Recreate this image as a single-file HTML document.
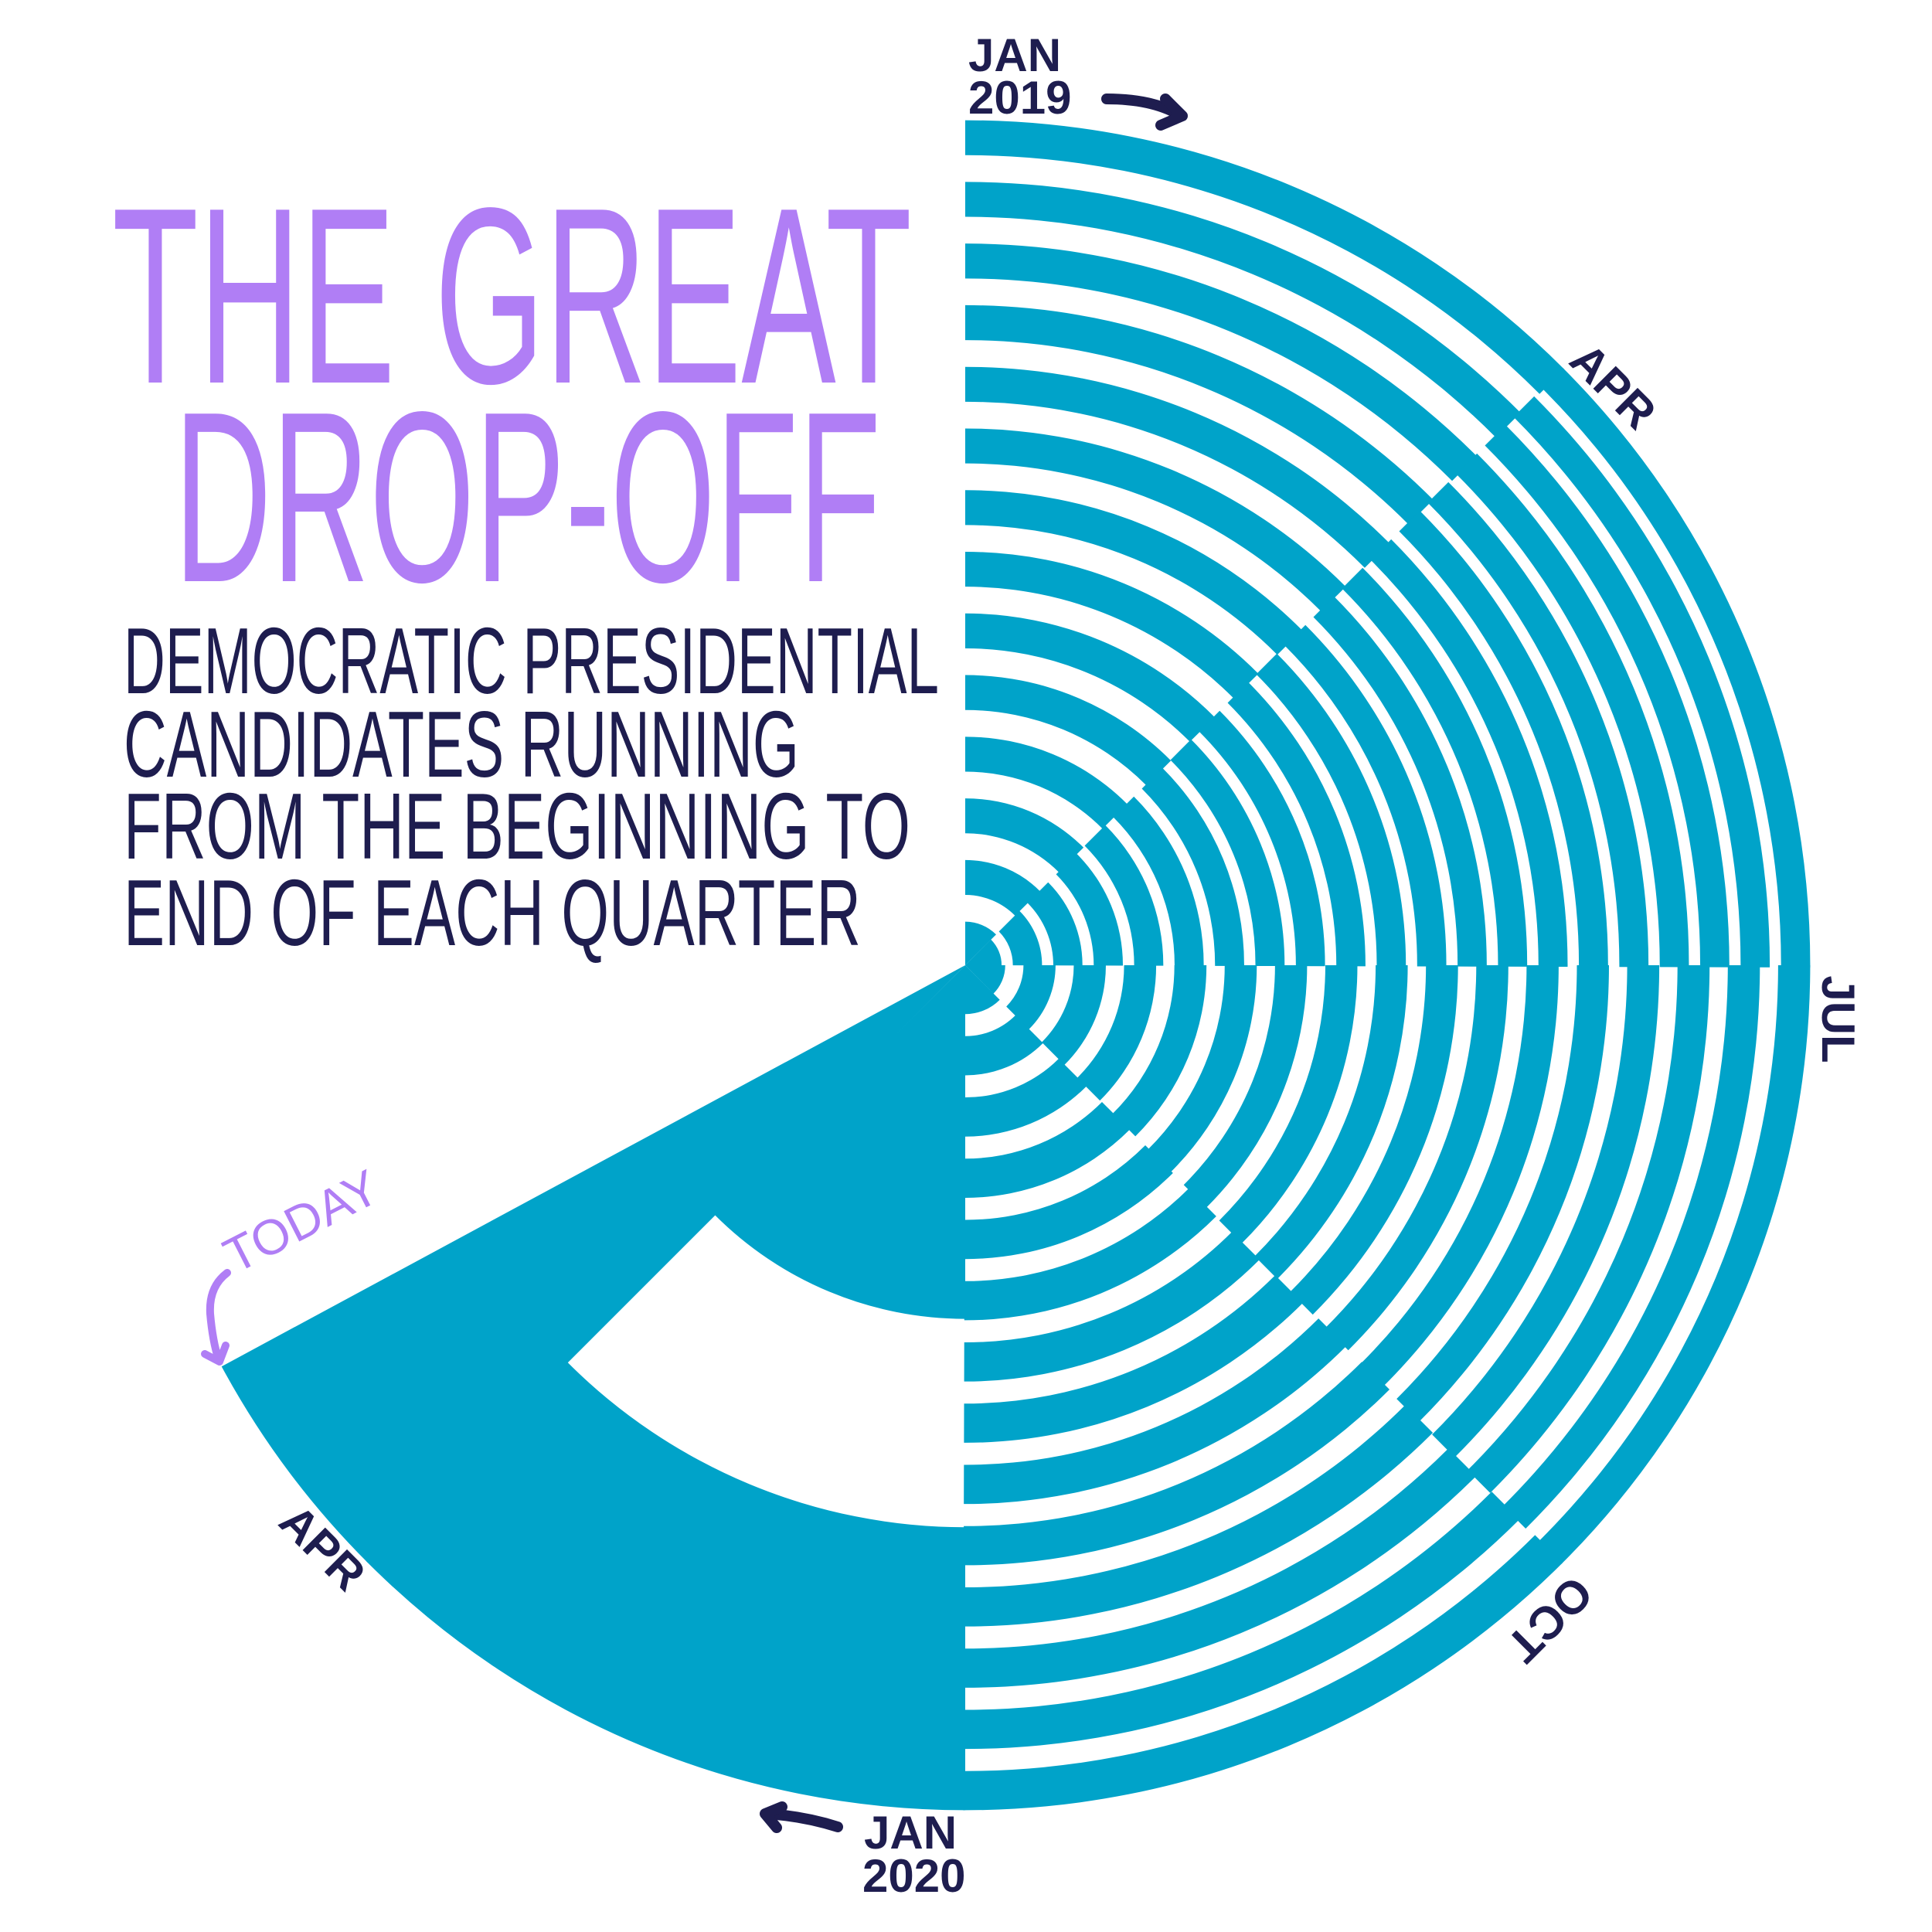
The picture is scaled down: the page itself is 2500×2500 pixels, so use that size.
<!DOCTYPE html>
<html>
<head>
<meta charset="utf-8">
<style>
html,body{margin:0;padding:0;background:#fff;}
svg{display:block;}
</style>
</head>
<body>
<svg id="chart" width="2500" height="2500" viewBox="0 0 2500 2500" xmlns="http://www.w3.org/2000/svg">
  <rect width="2500" height="2500" fill="#ffffff"/>
  <g id="rings"></g>

  <g fill="#b07ef5" font-family="'Liberation Sans', sans-serif">
    <text x="145" y="495" font-size="325" textLength="1035" lengthAdjust="spacingAndGlyphs">THE GREAT</text>
    <text x="225" y="752" font-size="315" textLength="915" lengthAdjust="spacingAndGlyphs">DROP-OFF</text>
  </g>

  <g fill="#1e1d4f" font-family="'Liberation Sans', sans-serif" font-size="122">
    <text x="160" y="897" textLength="1055" lengthAdjust="spacingAndGlyphs">DEMOCRATIC PRESIDENTIAL</text>
    <text x="160" y="1005" textLength="874" lengthAdjust="spacingAndGlyphs">CANDIDATES RUNNING</text>
    <text x="160" y="1111" textLength="1018" lengthAdjust="spacingAndGlyphs">FROM THE BEGINNING TO</text>
    <text x="160" y="1223" textLength="954" lengthAdjust="spacingAndGlyphs">END OF EACH QUARTER</text>
  </g>

  <g fill="#1e1d4f" font-family="'Liberation Sans', sans-serif" font-weight="bold" font-size="60">
    <text x="1253" y="92">JAN</text>
    <text x="1253" y="147">2019</text>
    <text text-anchor="middle" transform="translate(2087,500) rotate(45)" y="20">APR</text>
    <text text-anchor="middle" transform="translate(2378,1319) rotate(90)" y="20">JUL</text>
    <text text-anchor="middle" transform="translate(2005,2095) rotate(135)" y="20">OCT</text>
    <text x="1118" y="2392">JAN</text>
    <text x="1116" y="2448">2020</text>
    <text text-anchor="middle" transform="translate(417,2003) rotate(45)" y="20">APR</text>
  </g>

  <g fill="none" stroke-linecap="round" stroke-linejoin="round">
    <path d="M1432,128 Q1490,128 1525,148" stroke="#1e1d4f" stroke-width="14"/>
    <path d="M1508,128 L1530,150 L1502,162" stroke="#1e1d4f" stroke-width="14"/>
    <path d="M1084,2364 Q1040,2350 992,2347" stroke="#1e1d4f" stroke-width="14"/>
    <path d="M1012,2338 L990,2347 L1005,2365" stroke="#1e1d4f" stroke-width="14"/>
    <path d="M294,1647 Q270,1665 272,1700 Q275,1735 283,1760" stroke="#b07ef5" stroke-width="10"/>
    <path d="M265,1752 L284,1762 L292,1741" stroke="#b07ef5" stroke-width="10"/>
  </g>
  <text fill="#b07ef5" font-family="'Liberation Sans', sans-serif" font-size="64" text-anchor="middle" transform="translate(400,1600) rotate(-27)">TODAY</text>
</svg>
<script>
// Each segment = a quarter span of the timeline; ring count = number of candidates running
var segStartDeg = [0, 45, 90, 135, 180, 225];
var segEndDeg = [45, 90, 135, 180, 225, 241.5];
var ringCounts = [14, 21, 17, 14, 2, 1];
var ringGaps = [35, 15, 24, 29, 270, 0];

var CX = 1249, CY = 1249, R = 1093;
var INNER_EXTRA = 0.25;
var svgNS = 'http://www.w3.org/2000/svg';
var group = document.getElementById('rings');

function angleScale(deg){ return deg * Math.PI / 180; }
function pt(r, a){ return [CX + r * Math.sin(a), CY - r * Math.cos(a)]; }
function sector(r0, r1, d0, d1){
  var a0 = angleScale(d0), a1 = angleScale(d1);
  var large = (d1 - d0) > 180 ? 1 : 0;
  var p1 = pt(r1, a0), p2 = pt(r1, a1);
  var d = 'M' + p1[0] + ',' + p1[1] + ' A' + r1 + ',' + r1 + ' 0 ' + large + ' 1 ' + p2[0] + ',' + p2[1];
  if (r0 <= 0.5) {
    d += ' L' + CX + ',' + CY + ' Z';
  } else {
    var p3 = pt(r0, a1), p4 = pt(r0, a0);
    d += ' L' + p3[0] + ',' + p3[1] + ' A' + r0 + ',' + r0 + ' 0 ' + large + ' 0 ' + p4[0] + ',' + p4[1] + ' Z';
  }
  return d;
}

for (var s = 0; s < ringCounts.length; s++) {
  var n = ringCounts[s], g = ringGaps[s];
  var w = (R - (n - 1) * g) / (n + (n > 1 ? INNER_EXTRA : 0));
  for (var i = 0; i < n; i++) {
    var outer = R - i * (w + g);
    var inner = Math.max(0, outer - w);
    if (i === n - 1) inner = 0;
    var path = document.createElementNS(svgNS, 'path');
    path.setAttribute('d', sector(inner, outer + 0.4, segStartDeg[s], segEndDeg[s] + 0.15));
    path.setAttribute('fill', '#00a3c9');
    
    
    group.appendChild(path);
  }
}
</script>
</body>
</html>
